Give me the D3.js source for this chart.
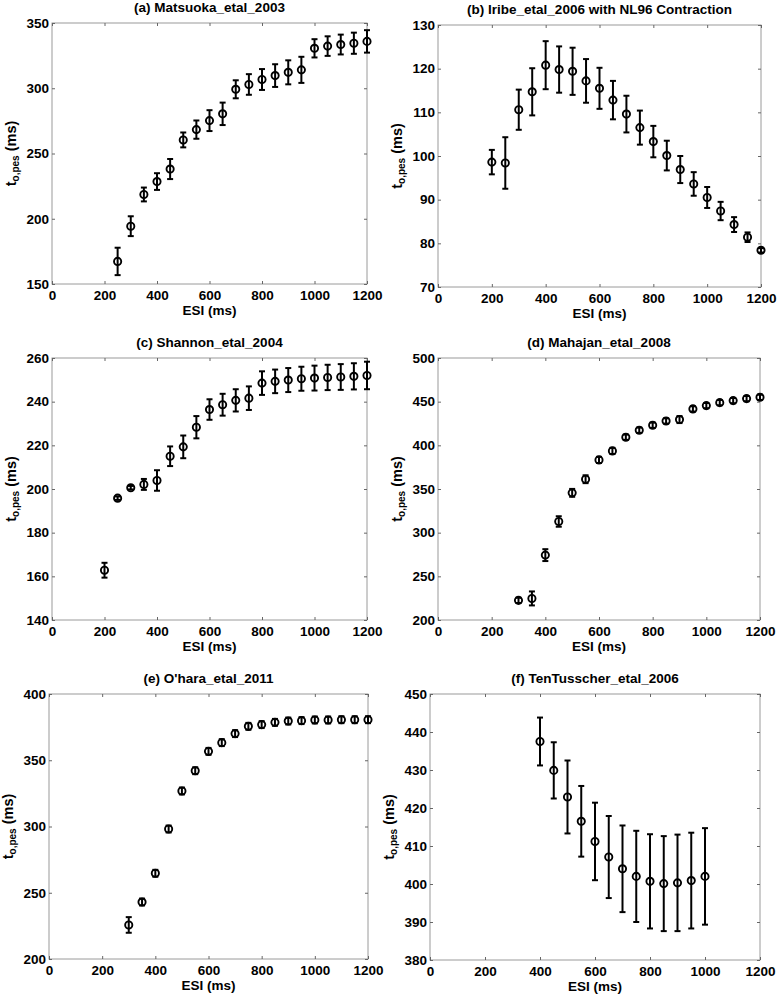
<!DOCTYPE html>
<html><head><meta charset="utf-8">
<script src="https://cdn.jsdelivr.net/npm/d3@7"></script>
<style>body{margin:0;background:#fff} svg{display:block}</style>
</head><body><svg id="chart" width="777" height="996"></svg>
<script>
// ---------- data ----------
const xTicks = [0, 200, 400, 600, 800, 1000, 1200];
const xLabel = "ESI (ms)";

const titleA = "(a) Matsuoka_etal_2003";
const esiA  = [250, 300, 350, 400, 450, 500, 550, 600, 650, 700, 750, 800, 850, 900, 950, 1000, 1050, 1100, 1150, 1200];
const meanA = [167.3, 194.3, 218.6, 228.5, 238.1, 260.4, 268.3, 275.2, 280.4, 299.2, 302.9, 306.7, 309.7, 312.2, 314.1, 330.6, 332.3, 333.5, 334.5, 335.9];
const errA  = [10.5, 7.6, 5.3, 6.4, 7.7, 5.7, 7.0, 8.0, 8.6, 6.9, 7.9, 8.0, 8.7, 9.2, 10.0, 7.0, 7.5, 7.6, 8.1, 8.6];
const yTicksA = [150, 200, 250, 300, 350];

const titleB = "(b) Iribe_etal_2006 with NL96 Contraction";
const esiB  = [200, 250, 300, 350, 400, 450, 500, 550, 600, 650, 700, 750, 800, 850, 900, 950, 1000, 1050, 1100, 1150, 1200];
const meanB = [98.6, 98.4, 110.6, 114.7, 120.8, 119.8, 119.4, 117.2, 115.5, 112.8, 109.6, 106.5, 103.3, 100.1, 96.9, 93.6, 90.5, 87.4, 84.3, 81.4, 78.4];
const errB  = [2.8, 5.9, 4.6, 5.4, 5.5, 5.3, 5.4, 5.0, 4.7, 4.4, 4.2, 3.9, 3.6, 3.4, 3.1, 2.7, 2.4, 2.1, 1.7, 1.1, 0.5];
const yTicksB = [70, 80, 90, 100, 110, 120, 130];

const titleC = "(c) Shannon_etal_2004";
const esiC  = [200, 250, 300, 350, 400, 450, 500, 550, 600, 650, 700, 750, 800, 850, 900, 950, 1000, 1050, 1100, 1150, 1200];
const meanC = [162.8, 195.8, 200.6, 202.1, 203.9, 215.0, 219.3, 228.3, 236.4, 238.6, 240.6, 241.6, 248.5, 249.3, 249.9, 250.5, 250.8, 251.1, 251.3, 251.6, 252.0];
const errC  = [3.4, 0.8, 0.8, 2.5, 4.7, 4.5, 5.2, 5.1, 4.7, 5.0, 5.1, 5.4, 5.4, 5.4, 5.5, 5.5, 5.7, 5.8, 5.9, 6.0, 6.3];
const yTicksC = [140, 160, 180, 200, 220, 240, 260];

const titleD = "(d) Mahajan_etal_2008";
const esiD  = [300, 350, 400, 450, 500, 550, 600, 650, 700, 750, 800, 850, 900, 950, 1000, 1050, 1100, 1150, 1200];
const meanD = [222.5, 224.7, 274.3, 312.8, 345.6, 361.2, 383.3, 393.6, 409.3, 417.3, 423.0, 427.9, 429.5, 441.7, 445.5, 448.9, 451.2, 453.5, 455.0];
const errD  = [3.0, 8.0, 6.8, 6.0, 4.5, 4.5, 3.5, 3.5, 3.0, 3.0, 3.0, 3.0, 4.0, 3.0, 3.0, 3.0, 3.0, 3.0, 3.0];
const yTicksD = [200, 250, 300, 350, 400, 450, 500];

const titleE = "(e) O'hara_etal_2011";
const esiE  = [300, 350, 400, 450, 500, 550, 600, 650, 700, 750, 800, 850, 900, 950, 1000, 1050, 1100, 1150, 1200];
const meanE = [225.7, 243.0, 264.7, 298.1, 326.8, 342.1, 356.7, 363.3, 370.1, 375.6, 376.9, 378.6, 379.6, 379.9, 380.4, 380.4, 380.6, 380.6, 380.6];
const errE  = [5.9, 2.6, 2.6, 2.6, 2.6, 2.6, 2.6, 2.6, 2.6, 2.6, 2.6, 2.6, 2.6, 2.6, 2.6, 2.6, 2.6, 2.6, 2.6];
const yTicksE = [200, 250, 300, 350, 400];

const titleF = "(f) TenTusscher_etal_2006";
const esiF  = [400, 450, 500, 550, 600, 650, 700, 750, 800, 850, 900, 950, 1000];
const meanF = [437.5, 429.9, 422.9, 416.5, 411.2, 407.1, 404.0, 402.0, 400.7, 400.1, 400.3, 400.9, 402.0];
const errF  = [6.3, 7.4, 9.6, 9.3, 10.2, 10.8, 11.4, 12.0, 12.4, 12.5, 12.7, 12.6, 12.7];
const yTicksF = [380, 390, 400, 410, 420, 430, 440, 450];

// ---------- layout ----------
const panels = [
  {title: titleA, esi: esiA, mean: meanA, err: errA, yTicks: yTicksA, box: {l: 52,  r: 367, t: 23,  b: 284}},
  {title: titleB, esi: esiB, mean: meanB, err: errB, yTicks: yTicksB, box: {l: 438, r: 761, t: 25,  b: 287}},
  {title: titleC, esi: esiC, mean: meanC, err: errC, yTicks: yTicksC, box: {l: 52,  r: 367, t: 358, b: 620}},
  {title: titleD, esi: esiD, mean: meanD, err: errD, yTicks: yTicksD, box: {l: 438, r: 760, t: 358, b: 620}},
  {title: titleE, esi: esiE, mean: meanE, err: errE, yTicks: yTicksE, box: {l: 49,  r: 368, t: 694, b: 959}},
  {title: titleF, esi: esiF, mean: meanF, err: errF, yTicks: yTicksF, box: {l: 430, r: 760, t: 694, b: 960}}
];

const FONT = "'Liberation Sans', Arial, Helvetica, sans-serif";
const svg = d3.select("#chart");

panels.forEach(p => {
  const B = p.box;
  const x = d3.scaleLinear().domain([xTicks[0], xTicks[xTicks.length - 1]]).range([B.l, B.r]);
  const y = d3.scaleLinear().domain([p.yTicks[0], p.yTicks[p.yTicks.length - 1]]).range([B.b, B.t]);
  const g = svg.append("g");

  // box
  g.append("rect").attr("x", B.l).attr("y", B.t).attr("width", B.r - B.l).attr("height", B.b - B.t)
    .attr("fill", "none").attr("stroke", "#9a9a9a").attr("stroke-width", 1);

  const styleAxis = sel => {
    sel.select(".domain").remove();
    sel.selectAll(".tick line").attr("stroke", "#666");
    sel.selectAll(".tick text").attr("font-family", FONT).attr("font-size", 13.5)
      .attr("font-weight", "bold").attr("fill", "#000");
  };

  g.append("g").attr("transform", `translate(0,${B.b})`)
    .call(d3.axisBottom(x).tickValues(xTicks).tickSize(-3).tickPadding(6).tickFormat(d3.format("d")))
    .call(styleAxis);
  g.append("g").attr("transform", `translate(0,${B.t})`)
    .call(d3.axisTop(x).tickValues(xTicks).tickSize(-3).tickFormat(""))
    .call(styleAxis);
  g.append("g").attr("transform", `translate(${B.l},0)`)
    .call(d3.axisLeft(y).tickValues(p.yTicks).tickSize(-3).tickPadding(3).tickFormat(d3.format("d")))
    .call(styleAxis);
  g.append("g").attr("transform", `translate(${B.r},0)`)
    .call(d3.axisRight(y).tickValues(p.yTicks).tickSize(-3).tickFormat(""))
    .call(styleAxis);

  // title
  g.append("text").attr("x", (B.l + B.r) / 2).attr("y", B.t - 11)
    .attr("text-anchor", "middle").attr("font-family", FONT).attr("font-size", 13.5)
    .attr("font-weight", "bold").attr("fill", "#000").text(p.title);

  // x label
  g.append("text").attr("x", (B.l + B.r) / 2).attr("y", B.b + 30.5)
    .attr("text-anchor", "middle").attr("font-family", FONT).attr("font-size", 13.5)
    .attr("font-weight", "bold").attr("fill", "#000").text(xLabel);

  // y label
  const yl = g.append("text")
    .attr("transform", `translate(${B.l - 36.5},${(B.t + B.b) / 2}) rotate(-90)`)
    .attr("text-anchor", "middle").attr("font-family", FONT).attr("font-size", 14.5)
    .attr("font-weight", "bold").attr("fill", "#000");
  yl.append("tspan").text("t");
  yl.append("tspan").attr("font-size", 10).attr("dy", 3).text("o,pes");
  yl.append("tspan").attr("dy", -3).text("\u00a0(ms)");

  // error bars
  const rows = p.esi.map((e, i) => ({esi: e, m: p.mean[i], e: p.err[i]}));
  const eb = g.append("g").attr("stroke", "#000").attr("stroke-width", 2).attr("fill", "none");
  eb.selectAll("line.v").data(rows).join("line").attr("class", "v")
    .attr("x1", d => x(d.esi)).attr("x2", d => x(d.esi))
    .attr("y1", d => y(d.m - d.e)).attr("y2", d => y(d.m + d.e));
  eb.selectAll("line.t").data(rows).join("line").attr("class", "t")
    .attr("x1", d => x(d.esi) - 3).attr("x2", d => x(d.esi) + 3)
    .attr("y1", d => y(d.m + d.e)).attr("y2", d => y(d.m + d.e));
  eb.selectAll("line.b").data(rows).join("line").attr("class", "b")
    .attr("x1", d => x(d.esi) - 3).attr("x2", d => x(d.esi) + 3)
    .attr("y1", d => y(d.m - d.e)).attr("y2", d => y(d.m - d.e));

  // markers
  g.append("g").selectAll("circle").data(rows).join("circle")
    .attr("cx", d => x(d.esi)).attr("cy", d => y(d.m)).attr("r", 3.6)
    .attr("fill", "none").attr("stroke", "#000").attr("stroke-width", 1.9);
});
</script>
</body></html>
